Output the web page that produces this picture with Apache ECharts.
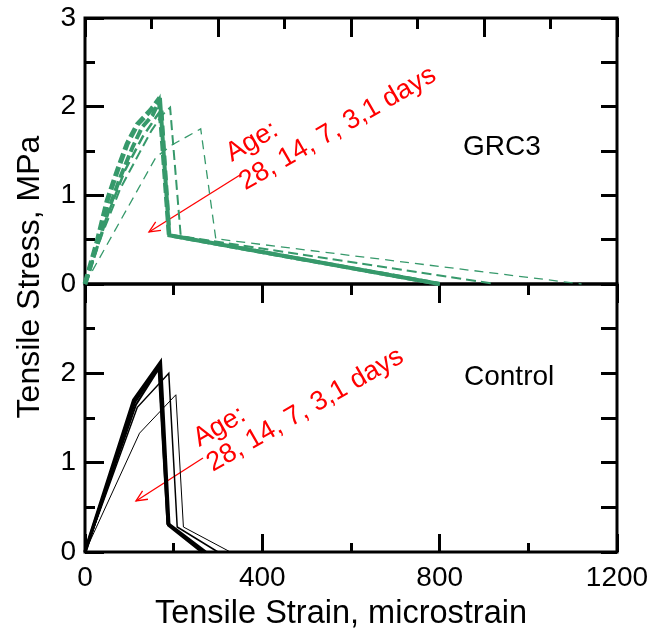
<!DOCTYPE html>
<html lang="en">
<head>
<meta charset="UTF-8">
<title>Tensile stress vs strain</title>
<script src="https://cdn.jsdelivr.net/npm/echarts@6/dist/echarts.min.js"></script>
<style>
    html, body { margin: 0; padding: 0; background: #fff; }
    #main { width: 652px; height: 632px; }
</style>
</head>
<body>
<div id="main"></div>
<script>
    // GRC3 panel, [strain (microstrain), stress (MPa)]
    var grc28Rise = [[0, 0], [28, 0.49], [50, 0.94], [73, 1.28], [95, 1.58], [118, 1.80], [148, 1.96], [169, 2.10]];
    var grc28Fall = [[169, 2.10], [190, 0.55], [800, 0]];
    var grc14 = [[0, 0], [54, 0.85], [80, 1.21], [107, 1.54], [129, 1.77], [152, 1.90], [167, 2.06], [189, 0.55], [800, 0]];
    var grc7 = [[0, 0], [45, 0.70], [90, 1.28], [130, 1.66], [160, 1.88], [174, 1.98], [192, 0.55], [800, 0]];
    var grc3 = [[0, 0], [40, 0.58], [80, 1.08], [124, 1.49], [150, 1.73], [173, 1.90], [192, 1.99], [216, 0.54], [925, 0]];
    var grc1 = [[0, 0], [160, 1.43], [197, 1.57], [261, 1.75], [295, 0.51], [1120, 0]];

    // Control panel
    var ctl28 = [[0, 0], [110, 1.70], [170, 2.12], [189, 0.30], [265, 0]];
    var ctl14 = [[0, 0], [112, 1.68], [168, 2.08], [187, 0.32], [272, 0]];
    var ctl7 = [[0, 0], [115, 1.65], [166, 2.05], [186, 0.31], [270, 0]];
    var ctl3 = [[0, 0], [118, 1.62], [189, 2.00], [208, 0.28], [300, 0]];
    var ctl1 = [[0, 0], [123, 1.33], [205, 1.76], [222, 0.28], [328, 0]];

    var xTicks = [0, 400, 800, 1200];
    var yTicks = [0, 1, 2, 3];

    var green = '#36996b';
    var font = '"Liberation Sans", Arial, sans-serif';
    var tickLine = { color: '#000', width: 3 };

    var chart = echarts.init(document.getElementById('main'));

    function line(data, xi, yi, color, width, dash) {
        return {
            type: 'line', data: data, xAxisIndex: xi, yAxisIndex: yi,
            symbol: 'none', silent: true, clip: true,
            lineStyle: { color: color, width: width, type: dash || 'solid', cap: 'butt', join: 'miter' }
        };
    }

    function arrow(x1, y1, x2, y2) {
        var dx = x2 - x1, dy = y2 - y1, len = Math.sqrt(dx * dx + dy * dy);
        var ux = dx / len, uy = dy / len, h = 11, w = 5;
        var bx = x2 - ux * h, by = y2 - uy * h;
        var st = { stroke: '#ff0000', lineWidth: 1.3, fill: null };
        return [
            { type: 'line', shape: { x1: x1, y1: y1, x2: x2, y2: y2 }, style: st },
            { type: 'polyline', shape: { points: [[bx - uy * w, by + ux * w], [x2, y2], [bx + uy * w, by - ux * w]] }, style: st }
        ];
    }

    function label(text, x, y, size, color, rot, align) {
        return {
            type: 'text', x: x, y: y, rotation: rot || 0,
            style: { text: text, font: size + 'px ' + font, fill: color, align: align || 'left', verticalAlign: 'middle' }
        };
    }

    // tick-only x axis (no line, no labels)
    function tickAxis(grid, pos, interval, major, minor) {
        return {
            gridIndex: grid, type: 'value', min: 0, max: 1200, position: pos, interval: interval,
            axisLine: { show: false, onZero: false }, axisLabel: { show: false }, splitLine: { show: false },
            axisTick: { show: true, inside: true, length: major, lineStyle: tickLine },
            minorTick: { show: true, splitNumber: 2, length: minor, lineStyle: tickLine }
        };
    }

    var option = {
        animation: false,
        backgroundColor: '#fff',
        grid: [
            { left: 85, top: 18, width: 532, height: 266, show: true, borderColor: '#000', borderWidth: 3 },
            { left: 85, top: 284, width: 532, height: 268, show: true, borderColor: '#000', borderWidth: 3 }
        ],
        xAxis: [
            { gridIndex: 0, type: 'value', min: 0, max: 1200, position: 'bottom',
              axisLine: { show: false, onZero: false }, axisTick: { show: false }, axisLabel: { show: false }, splitLine: { show: false } },
            tickAxis(0, 'top', 300, 19, 11),
            { gridIndex: 1, type: 'value', min: 0, max: 1200, interval: 400, position: 'bottom',
              axisLine: { show: false, onZero: false }, splitLine: { show: false },
              axisTick: { show: true, inside: true, length: 18, lineStyle: tickLine },
              minorTick: { show: true, splitNumber: 2, length: 9, lineStyle: tickLine },
              axisLabel: { margin: 12, fontSize: 28, fontFamily: font, color: '#000',
                  formatter: function (v) { return xTicks.indexOf(v) >= 0 ? String(v) : ''; } } },
            tickAxis(1, 'top', 400, 19, 11)
        ],
        yAxis: [
            { gridIndex: 0, type: 'value', min: 0, max: 3, interval: 1, position: 'left',
              axisLine: { show: false, onZero: false }, splitLine: { show: false },
              axisTick: { inside: true, length: 19, lineStyle: tickLine },
              minorTick: { show: true, splitNumber: 2, length: 10, lineStyle: tickLine },
              axisLabel: { margin: 9, fontSize: 28, fontFamily: font, color: '#000',
                  formatter: function (v) { return yTicks.indexOf(v) >= 0 ? String(v) : ''; } } },
            { gridIndex: 0, type: 'value', min: 0, max: 3, interval: 0.5, position: 'right',
              axisLine: { show: false, onZero: false }, axisLabel: { show: false }, splitLine: { show: false },
              axisTick: { inside: true, length: 16, lineStyle: tickLine } },
            { gridIndex: 1, type: 'value', min: 0, max: 3, interval: 1, position: 'left',
              axisLine: { show: false, onZero: false }, splitLine: { show: false },
              axisTick: { inside: true, length: 19, lineStyle: tickLine },
              minorTick: { show: true, splitNumber: 2, length: 10, lineStyle: tickLine },
              axisLabel: { margin: 9, fontSize: 28, fontFamily: font, color: '#000',
                  formatter: function (v) { return v < 3 ? String(v) : ''; } } },
            { gridIndex: 1, type: 'value', min: 0, max: 3, interval: 0.5, position: 'right',
              axisLine: { show: false, onZero: false }, axisLabel: { show: false }, splitLine: { show: false },
              axisTick: { inside: true, length: 16, lineStyle: tickLine } }
        ],
        series: [
            line(grc1, 0, 0, green, 1.3, [9, 6]),
            line(grc3, 0, 0, green, 2, [10, 5]),
            line(grc7, 0, 0, green, 2.5, [10, 5]),
            line(grc14, 0, 0, green, 4, [10, 4]),
            line(grc28Rise, 0, 0, green, 5, [10, 4]),
            line(grc28Fall, 0, 0, green, 4),
            line(ctl1, 2, 2, '#000', 1),
            line(ctl3, 2, 2, '#000', 1.5),
            line(ctl7, 2, 2, '#000', 2),
            line(ctl14, 2, 2, '#000', 3),
            line(ctl28, 2, 2, '#000', 3.5)
        ],
        graphic: [].concat(
            arrow(240, 175, 149, 232),
            arrow(203, 458, 136, 501),
            [
                label('Age:', 228, 155.5, 27, '#ff0000', Math.PI / 6),
                label('28, 14, 7, 3,1 days', 241.5, 184, 27, '#ff0000', Math.PI / 6),
                label('Age:', 195.5, 440.5, 27, '#ff0000', Math.PI / 6),
                label('28, 14, 7, 3,1 days', 209, 465.5, 27, '#ff0000', Math.PI / 6),
                label('GRC3', 463, 147, 28, '#000'),
                label('Control', 464, 377, 28, '#000'),
                label('Tensile Stress, MPa', 30, 277, 32, '#000', Math.PI / 2, 'center'),
                label('Tensile Strain, microstrain', 341, 614, 32.5, '#000', 0, 'center')
            ]
        )
    };

    chart.setOption(option);
</script>
</body>
</html>
